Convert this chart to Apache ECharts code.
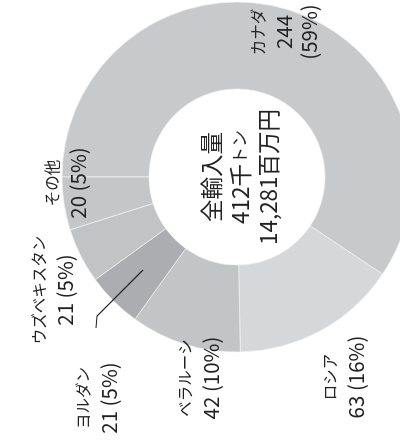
<!DOCTYPE html>
<html>
<head>
<meta charset="utf-8">
<script src="https://cdn.jsdelivr.net/npm/echarts@6/dist/echarts.min.js"></script>
<style>
  html, body { margin: 0; padding: 0; background: #fff; overflow: hidden; }
  /* chart is drawn upright, then the whole thing is turned 90deg counter-clockwise */
  #main {
    position: absolute; left: 0; top: 0;
    width: 446px; height: 400px;
    transform-origin: 0 0;
    transform: translate(0, 446px) rotate(-90deg);
  }
</style>
</head>
<body>
<div id="main"></div>
<script>
// data
const names = ['カナダ', 'ロシア', 'ベラルーシ', 'ヨルダン', 'ウズベキスタン', 'その他'];
const values = [244, 63, 42, 21, 21, 20];
const shares = [59, 16, 10, 5, 5, 5];
const centerTitle = '全輸入量';
const centerQty = ['412千', 'トン'];
const centerYen = '14,281百万円';

// look
const colors = ['#c8c9cb', '#d6d7d9', '#c3c4c6', '#acadb0', '#c2c3c5', '#c5c6c8'];
const C = [269, 237];
// label centres, offsets from the pie centre (upright frame)
const labelOff = [[145, 47], [-200, 106], [-201, -39], [-221, -141], [-113, -185], [-6, -172]];
// leader line for ヨルダン only
const leader = [[-93, -94], [-139, -140], [-151, -141]];
const FONT = '"Noto Sans CJK JP", "Noto Sans", sans-serif';

const chart = echarts.init(document.getElementById('main'));

chart.setOption({
  animation: false,
  backgroundColor: '#fff',
  graphic: [{
    type: 'text',
    x: C[0], y: C[1] + 3,
    style: {
      text: centerTitle + '\n' + centerQty[0] + '{k|' + centerQty[1] + '}\n' + centerYen,
      align: 'center', verticalAlign: 'middle',
      fontFamily: FONT, fontSize: 22.5,
      lineHeight: 28.5,
      fill: '#222',
      rich: { k: { fontFamily: FONT, fontSize: 17, lineHeight: 28.5, fill: '#222' } }
    }
  }, {
    type: 'polyline',
    z: 100,
    shape: { points: leader.map(d => [C[0] + d[0], C[1] + d[1]]) },
    style: { stroke: '#222', lineWidth: 1.2, fill: null }
  }],
  series: [{
    type: 'pie',
    center: C,
    radius: [88, 175],
    startAngle: 90,
    clockwise: true,
    silent: true,
    avoidLabelOverlap: false,
    itemStyle: { borderColor: '#f2f2f2', borderWidth: 0.7 },
    label: {
      show: true,
      position: 'outside',
      overflow: 'none',
      fontFamily: FONT,
      fontSize: 20.5,
      lineHeight: 25.5,
      color: '#222',
      align: 'center',
      rich: {
        n: { fontFamily: FONT, fontSize: 15.5, lineHeight: 25.5, color: '#222' },
        v: { fontFamily: FONT, fontSize: 20.5, lineHeight: 25.5, color: '#222' }
      },
      formatter: p => p.dataIndex === 0
        ? '{n|' + p.name + '}\n{v|' + p.value + '}\n{v|(' + shares[p.dataIndex] + '%)}'
        : '{n|' + p.name + '}\n{v|' + p.value + ' (' + shares[p.dataIndex] + '%)}'
    },
    labelLine: { show: false },
    labelLayout: function (p) {
      const o = labelOff[p.dataIndex];
      return { x: C[0] + o[0], y: C[1] + o[1], align: 'center', verticalAlign: 'middle', hideOverlap: false };
    },
    data: names.map((n, i) => ({
      name: n,
      value: values[i],
      itemStyle: { color: colors[i] }
    }))
  }]
});
</script>
</body>
</html>
